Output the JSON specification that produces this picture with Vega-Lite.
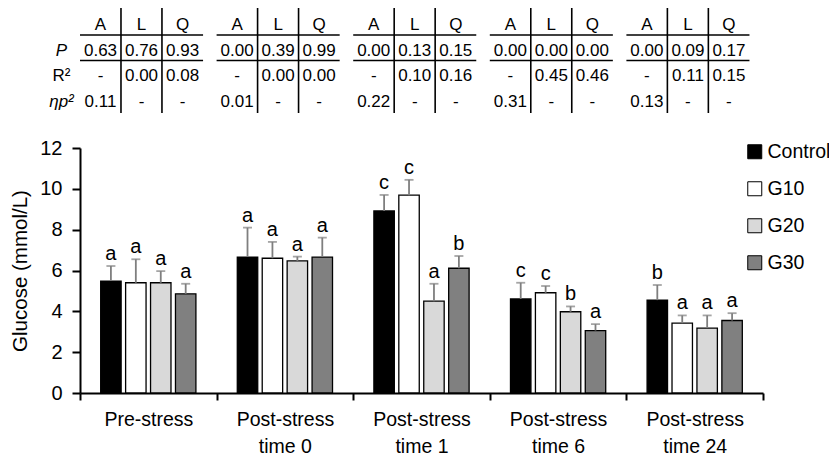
{
  "$schema": "https://vega.github.io/schema/vega-lite/v6.json",
  "padding": {"left": 10, "top": 7, "right": 0, "bottom": 0},
  "bounds": "flush",
  "spacing": 35,
  "resolve": {"scale": {"xOffset": "independent", "x": "independent", "y": "independent"}},
  "config": {
    "font": "'Liberation Sans', Arial, sans-serif",
    "view": {"stroke": null},
    "axis": {"labelColor": "black", "titleColor": "black", "domainColor": "black", "tickColor": "black", "grid": false},
    "legend": {"labelColor": "black"}
  },
  "datasets": {
    "stats": [
      {"group": "Pre-stress", "col": "A", "row": "hdr", "txt": "A"},
      {"group": "Pre-stress", "col": "L", "row": "hdr", "txt": "L"},
      {"group": "Pre-stress", "col": "Q", "row": "hdr", "txt": "Q"},
      {"group": "Pre-stress", "col": "A", "row": "P", "txt": "0.63"},
      {"group": "Pre-stress", "col": "L", "row": "P", "txt": "0.76"},
      {"group": "Pre-stress", "col": "Q", "row": "P", "txt": "0.93"},
      {"group": "Pre-stress", "col": "A", "row": "R²", "txt": "-"},
      {"group": "Pre-stress", "col": "L", "row": "R²", "txt": "0.00"},
      {"group": "Pre-stress", "col": "Q", "row": "R²", "txt": "0.08"},
      {"group": "Pre-stress", "col": "A", "row": "ηp²", "txt": "0.11"},
      {"group": "Pre-stress", "col": "L", "row": "ηp²", "txt": "-"},
      {"group": "Pre-stress", "col": "Q", "row": "ηp²", "txt": "-"},
      {"group": "Post-stress time 0", "col": "A", "row": "hdr", "txt": "A"},
      {"group": "Post-stress time 0", "col": "L", "row": "hdr", "txt": "L"},
      {"group": "Post-stress time 0", "col": "Q", "row": "hdr", "txt": "Q"},
      {"group": "Post-stress time 0", "col": "A", "row": "P", "txt": "0.00"},
      {"group": "Post-stress time 0", "col": "L", "row": "P", "txt": "0.39"},
      {"group": "Post-stress time 0", "col": "Q", "row": "P", "txt": "0.99"},
      {"group": "Post-stress time 0", "col": "A", "row": "R²", "txt": "-"},
      {"group": "Post-stress time 0", "col": "L", "row": "R²", "txt": "0.00"},
      {"group": "Post-stress time 0", "col": "Q", "row": "R²", "txt": "0.00"},
      {"group": "Post-stress time 0", "col": "A", "row": "ηp²", "txt": "0.01"},
      {"group": "Post-stress time 0", "col": "L", "row": "ηp²", "txt": "-"},
      {"group": "Post-stress time 0", "col": "Q", "row": "ηp²", "txt": "-"},
      {"group": "Post-stress time 1", "col": "A", "row": "hdr", "txt": "A"},
      {"group": "Post-stress time 1", "col": "L", "row": "hdr", "txt": "L"},
      {"group": "Post-stress time 1", "col": "Q", "row": "hdr", "txt": "Q"},
      {"group": "Post-stress time 1", "col": "A", "row": "P", "txt": "0.00"},
      {"group": "Post-stress time 1", "col": "L", "row": "P", "txt": "0.13"},
      {"group": "Post-stress time 1", "col": "Q", "row": "P", "txt": "0.15"},
      {"group": "Post-stress time 1", "col": "A", "row": "R²", "txt": "-"},
      {"group": "Post-stress time 1", "col": "L", "row": "R²", "txt": "0.10"},
      {"group": "Post-stress time 1", "col": "Q", "row": "R²", "txt": "0.16"},
      {"group": "Post-stress time 1", "col": "A", "row": "ηp²", "txt": "0.22"},
      {"group": "Post-stress time 1", "col": "L", "row": "ηp²", "txt": "-"},
      {"group": "Post-stress time 1", "col": "Q", "row": "ηp²", "txt": "-"},
      {"group": "Post-stress time 6", "col": "A", "row": "hdr", "txt": "A"},
      {"group": "Post-stress time 6", "col": "L", "row": "hdr", "txt": "L"},
      {"group": "Post-stress time 6", "col": "Q", "row": "hdr", "txt": "Q"},
      {"group": "Post-stress time 6", "col": "A", "row": "P", "txt": "0.00"},
      {"group": "Post-stress time 6", "col": "L", "row": "P", "txt": "0.00"},
      {"group": "Post-stress time 6", "col": "Q", "row": "P", "txt": "0.00"},
      {"group": "Post-stress time 6", "col": "A", "row": "R²", "txt": "-"},
      {"group": "Post-stress time 6", "col": "L", "row": "R²", "txt": "0.45"},
      {"group": "Post-stress time 6", "col": "Q", "row": "R²", "txt": "0.46"},
      {"group": "Post-stress time 6", "col": "A", "row": "ηp²", "txt": "0.31"},
      {"group": "Post-stress time 6", "col": "L", "row": "ηp²", "txt": "-"},
      {"group": "Post-stress time 6", "col": "Q", "row": "ηp²", "txt": "-"},
      {"group": "Post-stress time 24", "col": "A", "row": "hdr", "txt": "A"},
      {"group": "Post-stress time 24", "col": "L", "row": "hdr", "txt": "L"},
      {"group": "Post-stress time 24", "col": "Q", "row": "hdr", "txt": "Q"},
      {"group": "Post-stress time 24", "col": "A", "row": "P", "txt": "0.00"},
      {"group": "Post-stress time 24", "col": "L", "row": "P", "txt": "0.09"},
      {"group": "Post-stress time 24", "col": "Q", "row": "P", "txt": "0.17"},
      {"group": "Post-stress time 24", "col": "A", "row": "R²", "txt": "-"},
      {"group": "Post-stress time 24", "col": "L", "row": "R²", "txt": "0.11"},
      {"group": "Post-stress time 24", "col": "Q", "row": "R²", "txt": "0.15"},
      {"group": "Post-stress time 24", "col": "A", "row": "ηp²", "txt": "0.13"},
      {"group": "Post-stress time 24", "col": "L", "row": "ηp²", "txt": "-"},
      {"group": "Post-stress time 24", "col": "Q", "row": "ηp²", "txt": "-"}
    ],
    "glc": [
      {"group": "Pre-stress", "trt": "Control", "mean": 5.48, "upper": 6.22, "letter": "a"},
      {"group": "Pre-stress", "trt": "G10", "mean": 5.40, "upper": 6.55, "letter": "a"},
      {"group": "Pre-stress", "trt": "G20", "mean": 5.40, "upper": 5.97, "letter": "a"},
      {"group": "Pre-stress", "trt": "G30", "mean": 4.86, "upper": 5.35, "letter": "a"},
      {"group": "Post-stress time 0", "trt": "Control", "mean": 6.66, "upper": 8.10, "letter": "a"},
      {"group": "Post-stress time 0", "trt": "G10", "mean": 6.60, "upper": 7.40, "letter": "a"},
      {"group": "Post-stress time 0", "trt": "G20", "mean": 6.47, "upper": 6.68, "letter": "a"},
      {"group": "Post-stress time 0", "trt": "G30", "mean": 6.66, "upper": 7.61, "letter": "a"},
      {"group": "Post-stress time 1", "trt": "Control", "mean": 8.92, "upper": 9.70, "letter": "c"},
      {"group": "Post-stress time 1", "trt": "G10", "mean": 9.69, "upper": 10.44, "letter": "c"},
      {"group": "Post-stress time 1", "trt": "G20", "mean": 4.50, "upper": 5.35, "letter": "a"},
      {"group": "Post-stress time 1", "trt": "G30", "mean": 6.11, "upper": 6.71, "letter": "b"},
      {"group": "Post-stress time 6", "trt": "Control", "mean": 4.61, "upper": 5.40, "letter": "c"},
      {"group": "Post-stress time 6", "trt": "G10", "mean": 4.91, "upper": 5.24, "letter": "c"},
      {"group": "Post-stress time 6", "trt": "G20", "mean": 3.98, "upper": 4.24, "letter": "b"},
      {"group": "Post-stress time 6", "trt": "G30", "mean": 3.06, "upper": 3.37, "letter": "a"},
      {"group": "Post-stress time 24", "trt": "Control", "mean": 4.55, "upper": 5.29, "letter": "b"},
      {"group": "Post-stress time 24", "trt": "G10", "mean": 3.42, "upper": 3.80, "letter": "a"},
      {"group": "Post-stress time 24", "trt": "G20", "mean": 3.18, "upper": 3.80, "letter": "a"},
      {"group": "Post-stress time 24", "trt": "G30", "mean": 3.55, "upper": 3.91, "letter": "a"}
    ]
  },
  "vconcat": [
    {
      "width": 683,
      "height": 105,
      "data": {"name": "stats"},
      "encoding": {
        "x": {"field": "group", "type": "nominal", "scale": {"type": "band", "domain": ["Pre-stress", "Post-stress time 0", "Post-stress time 1", "Post-stress time 6", "Post-stress time 24"], "paddingInner": 0, "paddingOuter": 0}, "axis": null}
      },
      "layer": [
        {
          "mark": {"type": "text", "fontSize": 17, "color": "black", "dy": 3},
          "encoding": {
            "xOffset": {"field": "col", "type": "nominal", "scale": {"domain": ["A", "L", "Q"], "paddingInner": 0, "paddingOuter": 0.165, "align": 0}},
            "y": {"field": "row", "type": "nominal", "scale": {"type": "band", "domain": ["hdr", "P", "R²", "ηp²"], "paddingInner": 0, "paddingOuter": 0.06},
              "axis": {"title": null, "domain": false, "ticks": false, "tickSize": 0, "labelPadding": 19, "labelAlign": "center", "labelFontSize": 17, "labelOffset": 3,
                "labelExpr": "datum.value === 'hdr' ? '' : datum.value",
                "labelFontStyle": {"condition": {"test": "datum.value === 'R²'", "value": "normal"}, "value": "italic"}}},
            "text": {"field": "txt"}
          }
        },
        {
          "transform": [{"filter": "datum.row === 'P'"}],
          "mark": {"type": "bar", "height": 1.6, "yOffset": -12.75, "color": "black"},
          "encoding": {
            "xOffset": {"field": "col", "type": "nominal"},
            "y": {"field": "row", "type": "nominal"}
          }
        },
        {
          "transform": [{"filter": "datum.row === 'P'"}],
          "mark": {"type": "bar", "height": 1.6, "yOffset": 12.75, "color": "black"},
          "encoding": {
            "xOffset": {"field": "col", "type": "nominal"},
            "y": {"field": "row", "type": "nominal"}
          }
        },
        {
          "transform": [{"filter": "datum.row === 'hdr' && datum.col === 'A'"}],
          "mark": {"type": "rule", "color": "black", "strokeWidth": 1.6},
          "encoding": {"x": {"field": "group", "type": "nominal", "bandPosition": 0.3}}
        },
        {
          "transform": [{"filter": "datum.row === 'hdr' && datum.col === 'A'"}],
          "mark": {"type": "rule", "color": "black", "strokeWidth": 1.6},
          "encoding": {"x": {"field": "group", "type": "nominal", "bandPosition": 0.6}}
        }
      ]
    },
    {
      "width": 683,
      "height": 245,
      "data": {"name": "glc"},
      "encoding": {
        "x": {"field": "group", "type": "nominal",
          "scale": {"type": "band", "domain": ["Pre-stress", "Post-stress time 0", "Post-stress time 1", "Post-stress time 6", "Post-stress time 24"], "paddingInner": 0, "paddingOuter": 0},
          "axis": {"title": null, "labelAngle": 0, "tickBand": "extent", "labelFontSize": 19.5, "labelPadding": 10, "tickSize": 7, "tickWidth": 2, "domainWidth": 2, "labelLineHeight": 27,
            "labelExpr": "datum.value == null ? '' : (datum.value === 'Pre-stress' ? 'Pre-stress' : ['Post-stress', replace(datum.value, 'Post-stress ', '')])"}},
        "xOffset": {"field": "trt", "type": "nominal", "scale": {"domain": ["Control", "G10", "G20", "G30"], "paddingInner": 0.18, "paddingOuter": 0.83}}
      },
      "layer": [
        {
          "mark": {"type": "bar", "stroke": "black", "strokeWidth": 1.3},
          "encoding": {
            "y": {"field": "mean", "type": "quantitative", "scale": {"domain": [0, 12]},
              "axis": {"title": "Glucose (mmol/L)", "values": [0, 2, 4, 6, 8, 10, 12], "labelFontSize": 20, "titleFontSize": 20.5, "titleFontWeight": "normal", "tickSize": 8, "tickWidth": 2, "domainWidth": 2, "labelPadding": 10, "titlePadding": 9}},
            "fill": {"field": "trt", "type": "nominal", "scale": {"domain": ["Control", "G10", "G20", "G30"], "range": ["#000000", "#ffffff", "#d9d9d9", "#808080"]},
              "legend": {"title": null, "orient": "none", "legendX": 665, "legendY": 134, "symbolType": "square", "symbolSize": 196, "symbolStrokeColor": "black", "symbolStrokeWidth": 1, "symbolOpacity": 1, "labelFontSize": 19.5, "rowPadding": 16, "labelOffset": 3}}
          }
        },
        {
          "mark": {"type": "rule", "color": "#7f7f7f", "strokeWidth": 1.8},
          "encoding": {"y": {"field": "mean", "type": "quantitative"}, "y2": {"field": "upper"}}
        },
        {
          "mark": {"type": "tick", "color": "#7f7f7f", "thickness": 1.8, "size": 9, "orient": "horizontal"},
          "encoding": {"y": {"field": "upper", "type": "quantitative"}}
        },
        {
          "mark": {"type": "text", "baseline": "alphabetic", "dy": -6, "fontSize": 20, "color": "black"},
          "encoding": {"y": {"field": "upper", "type": "quantitative"}, "text": {"field": "letter"}}
        }
      ]
    }
  ]
}
